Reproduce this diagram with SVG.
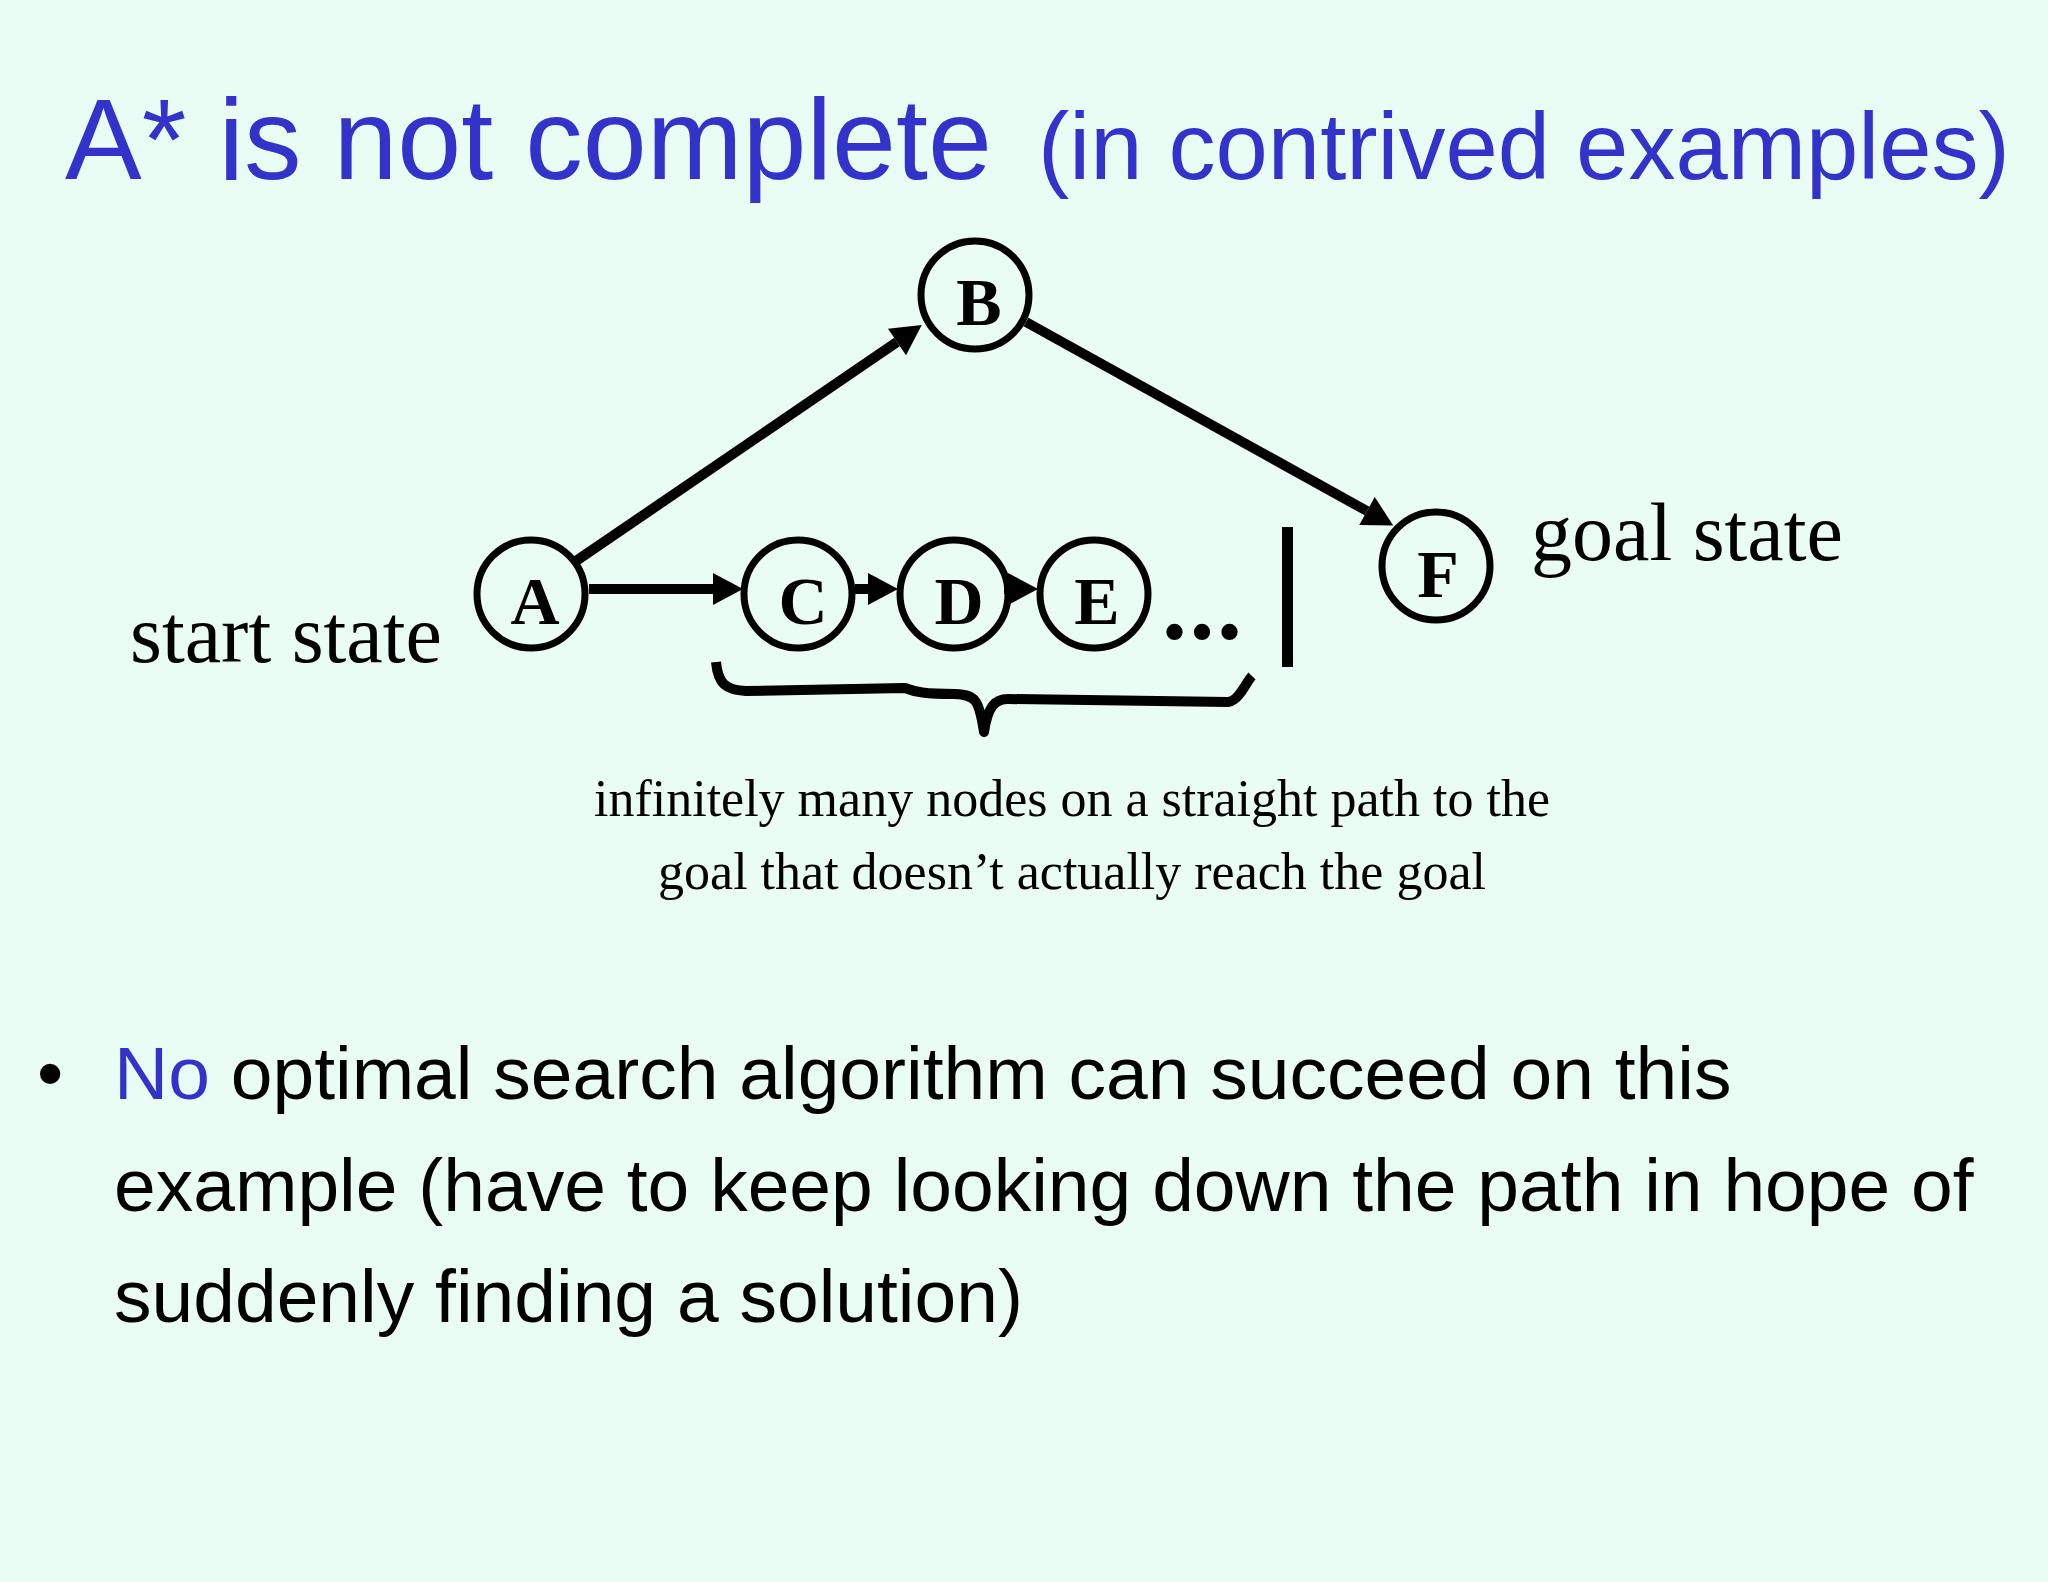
<svg xmlns="http://www.w3.org/2000/svg" width="2048" height="1582" viewBox="0 0 2048 1582">
  <defs>
    <style>
      .title { font-family: "Liberation Sans", Arial, sans-serif; fill: #3333CC; }
      .node circle { fill: none; stroke: #000; stroke-width: 7; }
      .node text { font-family: "Liberation Serif", "Times New Roman", serif; font-weight: bold; font-size: 68px; fill: #000; text-anchor: middle; }
      .edge { stroke: #000; stroke-width: 10; fill: none; }
      .label { font-family: "Liberation Serif", "Times New Roman", serif; fill: #000; }
      .body { font-family: "Liberation Sans", Arial, sans-serif; font-size: 75px; fill: #000; }
    </style>
    <marker id="ah" markerUnits="userSpaceOnUse" markerWidth="32" markerHeight="34" refX="0" refY="16" orient="auto" overflow="visible">
      <path d="M0,0 L30,16 L0,32 Z" fill="#000"/>
    </marker>
  </defs>
  <rect x="0" y="0" width="2048" height="1582" fill="#E9FDF4"/>

  <g id="title">
    <text class="title" x="65" y="179" font-size="115">A* is not complete<tspan x="1038" font-size="94">(in contrived examples)</tspan></text>
  </g>

  <g id="node-A" class="node"><circle cx="531" cy="594" r="54"/><text x="535" y="624">A</text></g>
  <g id="node-B" class="node"><circle cx="975" cy="295" r="54"/><text x="979" y="325">B</text></g>
  <g id="node-C" class="node"><circle cx="798" cy="594" r="54"/><text x="803" y="624">C</text></g>
  <g id="node-D" class="node"><circle cx="954" cy="594" r="54"/><text x="959" y="624">D</text></g>
  <g id="node-E" class="node"><circle cx="1094" cy="594" r="54"/><text x="1097" y="624">E</text></g>
  <g id="node-F" class="node"><circle cx="1436" cy="566" r="54"/><text x="1438" y="597">F</text></g>

  <g id="connectors">
    <line class="edge" x1="576" y1="561" x2="897" y2="342" marker-end="url(#ah)"/>
    <line class="edge" x1="1026" y1="322" x2="1367" y2="511" marker-end="url(#ah)"/>
    <line class="edge" x1="589" y1="589" x2="713" y2="589" marker-end="url(#ah)"/>
    <line class="edge" x1="855" y1="589" x2="868" y2="589" marker-end="url(#ah)"/>
    <line class="edge" x1="1004" y1="589" x2="1008" y2="589" marker-end="url(#ah)"/>
  </g>

  <g id="ellipsis">
    <text class="label" x="1162" y="639" font-size="100" font-weight="bold" letter-spacing="2.5">...</text>
  </g>
  <g id="barrier">
    <rect x="1282" y="527" width="11" height="140" fill="#000"/>
  </g>

  <g id="brace">
    <path d="M716,662 C718,684 726,690 746,691 L905,688 C915,692 925,694 955,694 C976,695 979,700 984,732 C988,706 995,699 1008,699 L1228,702 C1240,700 1246,682 1252,676" fill="none" stroke="#000" stroke-width="10" stroke-linejoin="round"/>
  </g>

  <g id="labels">
    <text class="label" x="130" y="662" font-size="82">start state</text>
    <text class="label" x="1531" y="560" font-size="82">goal state</text>
    <text class="label" x="1072" y="816" font-size="52" text-anchor="middle">infinitely many nodes on a straight path to the</text>
    <text class="label" x="1072" y="889" font-size="52" text-anchor="middle">goal that doesn’t actually reach the goal</text>
  </g>

  <g id="bullet">
    <text class="body" x="37" y="1099">•</text>
    <text class="body" x="114" y="1099"><tspan fill="#3333CC">No</tspan> optimal search algorithm can succeed on this</text>
    <text class="body" x="114" y="1211">example (have to keep looking down the path in hope of</text>
    <text class="body" x="114" y="1322">suddenly finding a solution)</text>
  </g>
</svg>
